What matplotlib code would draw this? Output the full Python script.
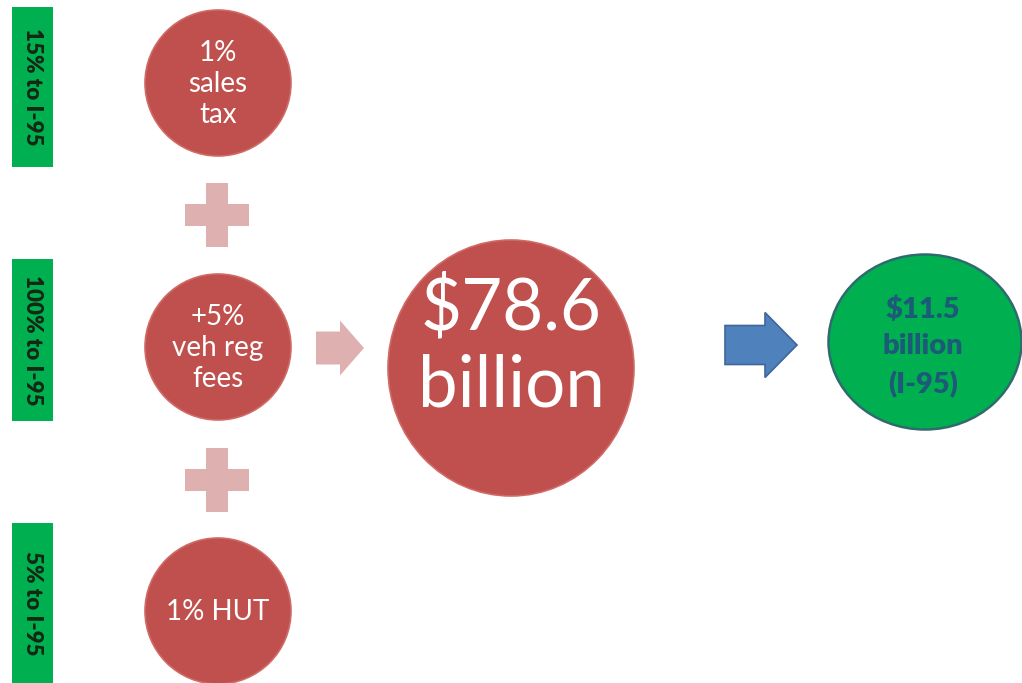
import matplotlib
matplotlib.use("Agg")
import matplotlib.pyplot as plt
from matplotlib.patches import Circle, Ellipse, Rectangle, Polygon

# ---- data ----
source_labels = ["1%\nsales\ntax", "+5%\nveh reg\nfees", "1% HUT"]
share_labels = ["15% to I-95", "100% to I-95", "5% to I-95"]
total_label = "$78.6\nbillion"
result_label = "$11.5\nbillion\n(I-95)"

# ---- layout ----
W, H = 1022, 683
FONT = ["Lato", "DejaVu Sans"]
RED = "#c0504d"
PINK = "#deb0b0"
GREEN = "#00b050"
BLUE = "#4f81bd"

fig = plt.figure(figsize=(W / 100, H / 100), dpi=100)
ax = fig.add_axes([0, 0, 1, 1])
ax.set_xlim(0, W)
ax.set_ylim(H, 0)
ax.axis("off")

src_cx = 218
src_cy = [83, 347, 611]
src_r = 73
bar_x, bar_w = 12, 41
bar_spans = [(7, 167), (259, 421), (523, 690)]

for lab, cy in zip(source_labels, src_cy):
    ax.add_patch(Circle((src_cx, cy), src_r, facecolor=RED, edgecolor="#d06a66", lw=1.2))
    ax.text(src_cx, cy + 1, lab, ha="center", va="center", color="white",
            fontsize=20, family=FONT, linespacing=1.22)

for lab, (y0, y1) in zip(share_labels, bar_spans):
    ax.add_patch(Rectangle((bar_x, y0), bar_w, y1 - y0, facecolor=GREEN, edgecolor="none"))
    yc = (y0 + min(y1, H)) / 2
    ax.text(bar_x + bar_w / 2, yc, lab, ha="center", va="center", rotation=-90,
            color="#142814", fontsize=16, fontweight="heavy", family=FONT)

# plus signs
def plus(cx, cy, half=32, th=22, color=PINK):
    ax.add_patch(Rectangle((cx - half, cy - th / 2), 2 * half, th, facecolor=color, edgecolor="none"))
    ax.add_patch(Rectangle((cx - th / 2, cy - half), th, 2 * half, facecolor=color, edgecolor="none"))

plus(217, 215)
plus(217, 480)

# arrows
def block_arrow(x0, xh, xt, cy, shaft_h, head_h, fc, ec):
    pts = [(x0, cy - shaft_h / 2), (xh, cy - shaft_h / 2), (xh, cy - head_h / 2),
           (xt, cy), (xh, cy + head_h / 2), (xh, cy + shaft_h / 2), (x0, cy + shaft_h / 2)]
    ax.add_patch(Polygon(pts, closed=True, facecolor=fc, edgecolor=ec, lw=1.2))

block_arrow(316, 340, 364, 348, 33, 55, PINK, "none")
block_arrow(725, 765, 797, 345, 39, 65, BLUE, "#3d679a")

# big total circle
ax.add_patch(Ellipse((511, 368), 246, 256, facecolor=RED, edgecolor="#d06a66", lw=1.2))
ax.text(511, 346, total_label, ha="center", va="center", color="white",
        fontsize=51, family=FONT, linespacing=1.22)

# result circle
ax.add_patch(Ellipse((925, 342), 193, 175, facecolor=GREEN, edgecolor="#2f6b6e", lw=1.8))
ax.text(923, 347, result_label, ha="center", va="center", color="#1d5a78",
        fontsize=21, fontweight="heavy", family=FONT, linespacing=1.5)

fig.savefig("out.png", dpi=100)
